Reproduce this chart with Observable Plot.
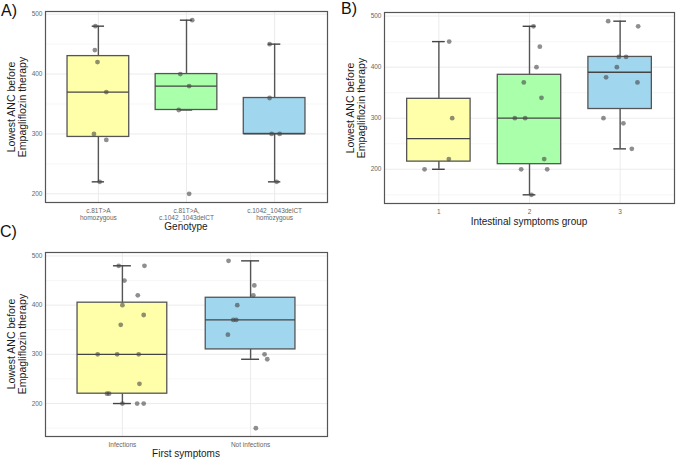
<!DOCTYPE html>
<html>
<head>
<meta charset="utf-8">
<script src="https://cdn.jsdelivr.net/npm/d3@7"></script>
<script src="https://cdn.jsdelivr.net/npm/@observablehq/plot@0.6"></script>
<style>
  html, body { margin: 0; padding: 0; background: #fff; }
  #root { position: relative; width: 677px; height: 460px; overflow: hidden; font-family: "Liberation Sans", Arial, sans-serif; }
  .panel { position: absolute; }
  .lbl { position: absolute; font-size: 16px; line-height: 16px; color: #111; white-space: nowrap; }
  .xt { position: absolute; font-size: 10px; line-height: 10px; color: #1a1a1a; white-space: nowrap; transform: translate(-50%, -50%); }
  .yt { position: absolute; font-size: 10.5px; line-height: 11px; color: #1a1a1a; white-space: nowrap; text-align: center; transform: translate(-50%, -50%) rotate(-90deg); }
</style>
</head>
<body>
<div id="root"></div>
<script>
// ---------- Panel A: Genotype ----------
const genotypeCats = ["c.81T>A\nhomozygous", "c.81T>A,\nc.1042_1043delCT", "c.1042_1043delCT\nhomozygous"];
const genotypeQ1 = [295, 340, 300];
const genotypeMedian = [370, 380, 300];
const genotypeQ3 = [430, 400, 360];
const genotypeWhiskerLo = [220, 340, 220];
const genotypeWhiskerHi = [480, 490, 450];
const genotypeValues = [
  [480, 440, 420, 370, 300, 290, 220],
  [490, 400, 380, 340, 200],
  [450, 360, 300, 300, 220]
];
const genotypeJitter = [
  [-0.034, -0.04, -0.01, 0.09, -0.05, 0.09, 0.015],
  [0.065, -0.07, 0.03, -0.088, 0.03],
  [-0.057, -0.057, -0.034, 0.057, 0.023]
];

// ---------- Panel B: Intestinal symptoms group ----------
const intestinalCats = ["1", "2", "3"];
const intestinalQ1 = [215, 210, 318];
const intestinalMedian = [260, 300, 390];
const intestinalQ3 = [338, 385, 420];
const intestinalWhiskerLo = [200, 150, 240];
const intestinalWhiskerHi = [450, 480, 490];
const intestinalValues = [
  [450, 300, 220, 200],
  [480, 440, 400, 370, 340, 300, 300, 220, 200, 200, 150],
  [490, 480, 420, 420, 400, 380, 370, 300, 290, 240]
];
const intestinalJitter = [
  [0.114, 0.147, 0.11, -0.158],
  [0.044, 0.114, 0.077, -0.063, 0.132, -0.162, -0.048, 0.162, -0.092, 0.195, 0.022],
  [-0.132, 0.199, -0.014, 0.066, -0.036, -0.155, 0.191, -0.184, 0.036, 0.129]
];

// ---------- Panel C: First symptoms ----------
const firstCats = ["Infections", "Not infections"];
const firstQ1 = [220, 310];
const firstMedian = [300, 370];
const firstQ3 = [405, 415];
const firstWhiskerLo = [200, 290];
const firstWhiskerHi = [480, 490];
const firstValues = [
  [480, 480, 450, 420, 400, 380, 360, 300, 300, 300, 240, 220, 220, 200, 200, 200],
  [490, 440, 420, 400, 370, 370, 340, 300, 290, 150]
];
const firstJitter = [
  [-0.029, 0.172, 0.016, 0.12, 0, 0.166, -0.013, -0.193, -0.041, 0.127, 0.133, -0.12, -0.104, 0, 0.115, 0.166],
  [-0.172, 0.029, 0.021, -0.104, -0.135, -0.112, -0.177, 0.109, 0.13, 0.041]
];

const yMajor = [200, 300, 400, 500];
const yMinorAll = [150, 250, 350, 450];
const YELLOW = "#ffffaa", GREEN = "#aaffaa", BLUE = "#a0d6ee";

function panel(cfg) {
  const n = cfg.cats.length;
  const boxes = cfg.cats.map((c, i) => ({
    i: i + 1, q1: cfg.q1[i], med: cfg.med[i], q3: cfg.q3[i],
    lo: cfg.lo[i], hi: cfg.hi[i], fill: cfg.fills[i]
  }));
  const pts = cfg.values.flatMap((vs, i) => vs.map((v, j) => ({x: i + 1 + cfg.jitter[i][j], y: v})));
  const all = cfg.values.flat();
  const mn = d3.min(all), mx = d3.max(all), pad = (mx - mn) * 0.05;
  const yDomain = [mn - pad, mx + pad];
  const minor = yMinorAll.filter(v => v > yDomain[0] && v < yDomain[1]);
  const hw = 0.35, cw = 0.07;
  const stroke = "#555";
  return Plot.plot({
    width: cfg.width, height: cfg.height,
    marginLeft: cfg.ml, marginRight: cfg.mr, marginTop: cfg.mt, marginBottom: cfg.mb,
    style: {fontFamily: '"Liberation Sans", Arial, sans-serif', background: "transparent"},
    x: {domain: [0.4, n + 0.6]},
    y: {domain: yDomain},
    color: {type: "identity"},
    marks: [
      Plot.ruleY(minor, {stroke: "#f3f3f3", strokeWidth: 0.7}),
      Plot.ruleY(yMajor, {stroke: "#e9e9e9", strokeWidth: 0.9}),
      Plot.ruleX(d3.range(1, n + 1), {stroke: "#e9e9e9", strokeWidth: 0.9}),
      Plot.ruleX(boxes, {x: "i", y1: "lo", y2: "hi", stroke: stroke, strokeWidth: 1.4}),
      Plot.ruleY(boxes, {y: "lo", x1: d => d.i - cw, x2: d => d.i + cw, stroke: "#444", strokeWidth: 1.4}),
      Plot.ruleY(boxes, {y: "hi", x1: d => d.i - cw, x2: d => d.i + cw, stroke: "#444", strokeWidth: 1.4}),
      Plot.rect(boxes, {x1: d => d.i - hw, x2: d => d.i + hw, y1: "q1", y2: "q3", fill: "fill", stroke: stroke, strokeWidth: 1.3}),
      Plot.ruleY(boxes, {y: "med", x1: d => d.i - hw, x2: d => d.i + hw, stroke: "#444", strokeWidth: 1.3}),
      Plot.dot(pts, {x: "x", y: "y", r: 2.4, fill: "#444", fillOpacity: 0.6, stroke: "none"}),
      Plot.frame({stroke: "#555", strokeWidth: 1.2}),
      Plot.axisY(yMajor, {tickSize: 0, tickPadding: 3, fontSize: 6.5, fill: "#666", label: null}),
      Plot.axisX(d3.range(1, n + 1), {tickSize: 0, tickPadding: 5, fontSize: 6.5, lineHeight: 1.1, fill: "#666", label: null,
        tickFormat: d => cfg.cats[d - 1]})
    ]
  });
}

const root = document.getElementById("root");
function place(el, left, top) {
  const d = document.createElement("div");
  d.className = "panel";
  d.style.left = left + "px"; d.style.top = top + "px";
  d.appendChild(el);
  root.appendChild(d);
}
function text(cls, str, left, top) {
  const d = document.createElement("div");
  d.className = cls;
  d.innerText = str;
  d.style.left = left + "px"; d.style.top = top + "px";
  root.appendChild(d);
}

place(panel({cats: genotypeCats, q1: genotypeQ1, med: genotypeMedian, q3: genotypeQ3, lo: genotypeWhiskerLo, hi: genotypeWhiskerHi,
  values: genotypeValues, jitter: genotypeJitter, fills: [YELLOW, GREEN, BLUE],
  width: 335, height: 225, ml: 45, mr: 8, mt: 11, mb: 23}), 0, 0);
place(panel({cats: intestinalCats, q1: intestinalQ1, med: intestinalMedian, q3: intestinalQ3, lo: intestinalWhiskerLo, hi: intestinalWhiskerHi,
  values: intestinalValues, jitter: intestinalJitter, fills: [YELLOW, GREEN, BLUE],
  width: 337, height: 225, ml: 44, mr: 3, mt: 12, mb: 22}), 340, 0);
place(panel({cats: firstCats, q1: firstQ1, med: firstMedian, q3: firstQ3, lo: firstWhiskerLo, hi: firstWhiskerHi,
  values: firstValues, jitter: firstJitter, fills: [YELLOW, BLUE],
  width: 335, height: 232, ml: 45, mr: 8, mt: 24, mb: 24}), 0, 228);

const yTitle = "Lowest ANC before\nEmpagliflozin therapy";
text("yt", yTitle, 17, 107);
text("yt", yTitle, 356, 108);
text("yt", yTitle, 17, 344);
text("xt", "Genotype", 186, 227);
text("xt", "Intestinal symptoms group", 529, 222);
text("xt", "First symptoms", 186, 454);
text("lbl", "A)", 1, 3);
text("lbl", "B)", 341, 1);
text("lbl", "C)", 0, 224);
</script>
</body>
</html>
